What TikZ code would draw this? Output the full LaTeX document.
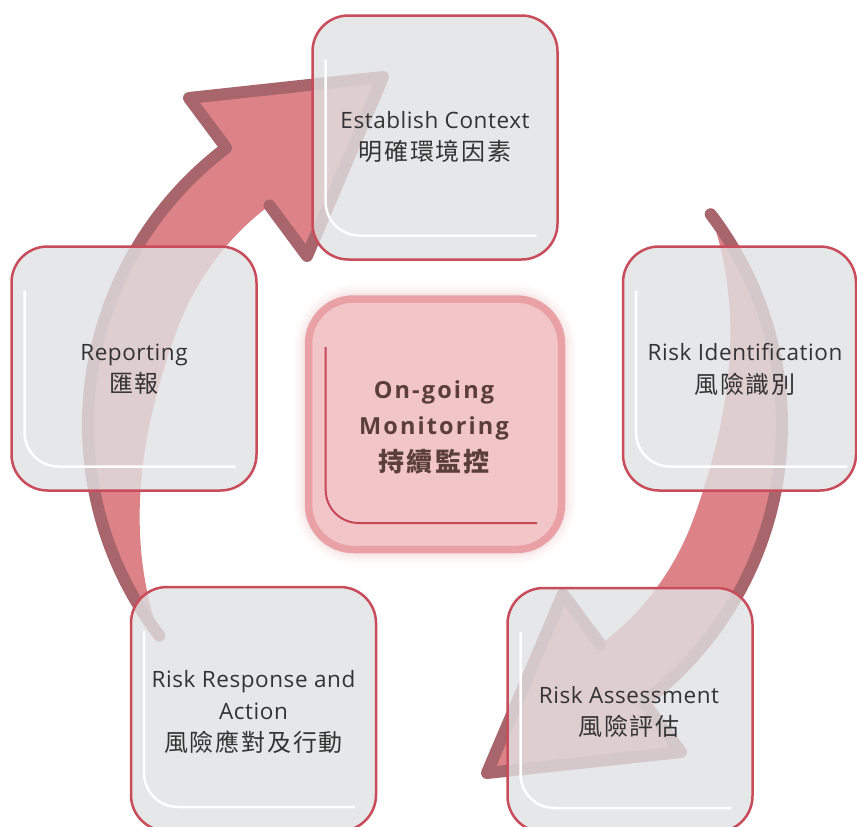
\documentclass[tikz,border=0pt]{standalone}
\usepackage{fontspec}
\setmainfont{Open Sans}
\newfontfamily\cjk{Noto Sans CJK TC}
\usetikzlibrary{calc}
\definecolor{boxfill}{RGB}{224,225,227}
\definecolor{boxline}{RGB}{201,76,91}
\definecolor{arrpink}{RGB}{221,130,135}
\definecolor{arrdark}{RGB}{168,102,108}
\definecolor{ctrfill}{RGB}{242,197,200}
\definecolor{ctrline}{RGB}{233,161,166}
\definecolor{ctrred}{RGB}{201,72,88}
\definecolor{txt}{RGB}{51,51,51}
\definecolor{ctrtxt}{RGB}{91,63,59}
\newcommand{\cyclearrow}{%
  \fill[arrpink] (226.2,147.9) -- (189,98) -- (383,77) -- (307,256) -- (269.5,205.4)
    -- plot[domain=233:142.6,samples=70] ({435+(347-72*sin(90*min(1,(\x-142.6)/57.4)))*cos(\x)},{425+(347-72*sin(90*min(1,(\x-142.6)/57.4)))*sin(\x)})
    -- plot[domain=142.6:233,samples=70] ({435+347*cos(\x)},{425+347*sin(\x)}) -- cycle;
  \draw[arrdark,line width=12pt,line join=round,line cap=round]
    (269.5,205.4) -- (307,256) -- (383,77) -- (189,98) -- (226.2,147.9)
    -- plot[domain=233:142.6,samples=70] ({435+347*cos(\x)},{425+347*sin(\x)});
}
\begin{document}
\begin{tikzpicture}[x=1pt,y=-1pt,
  box/.style={rectangle,draw=boxline,line width=2.5pt,fill=boxfill,fill opacity=0.8,
    rounded corners=36pt,inner sep=0pt,outer sep=0pt,minimum width=245pt,minimum height=244pt},
  wline/.style={draw=white,line width=2.5pt,rounded corners=34pt},
  lat/.style={font=\fontsize{22.5}{26}\selectfont\addfontfeatures{LetterSpace=2.5},text=txt,inner sep=0pt,anchor=base},
  cjkt/.style={font=\cjk\fontsize{24}{28}\selectfont\addfontfeatures{LetterSpace=7.5},text=txt,inner sep=0pt,anchor=base},
  clat/.style={font=\bfseries\fontsize{23.5}{27}\selectfont\addfontfeatures{LetterSpace=9},text=ctrtxt,inner sep=0pt,anchor=base},
  ccjk/.style={font=\cjk\bfseries\fontsize{26}{30}\selectfont\addfontfeatures{LetterSpace=8},text=ctrtxt,inner sep=0pt,anchor=base},
  ctrbox/.style={rectangle,draw=ctrline,line width=7.5pt,fill=ctrfill,rounded corners=45pt,
    inner sep=0pt,outer sep=0pt,minimum width=253pt,minimum height=250.5pt}
]
\useasboundingbox (0,0) rectangle (857,827);
\fill[white] (0,0) rectangle (857,827);
% arrows
\cyclearrow
\begin{scope}[rotate around={180:(435,425)}]
\cyclearrow
\end{scope}
% glow around centre box
\foreach \w/\o in {30/0.04,24/0.05,18/0.07,13/0.09}{
  \draw[ctrline,line width=\w pt,draw opacity=\o,rounded corners=48pt]
    (308.5,299) rectangle (561.5,549.5);
}
% centre box
\node[ctrbox] (ctr) at (435,424.25) {};
\draw[ctrred,line width=2pt,rounded corners=33pt] (325.7,347) |- (537,523);
% boxes
\node[box] (ec) at (435,137.5) {};
\node[box] (rep) at (134,368.5) {};
\node[box,minimum width=233pt] (rid) at (739.5,368.5) {};
\node[box] (rra) at (253.5,709) {};
\node[box] (ras) at (630,710) {};
\foreach \b in {ec,rep,rid,rra,ras}{
  \draw[wline] ($(\b.north west)+(13,44)$) |- ($(\b.north west)+(224,220)$);
}
% texts
\node[lat] (ec1) at (435,128.3) {Establish Context};
\node[cjkt] (ec2) at (435,160) {明確環境因素};
\node[lat] (rep1) at (134,360.7) {Reporting};
\node[cjkt] (rep2) at (134,392) {匯報};
\node[lat] (rid1) at (745,360.7) {Risk Identification};
\node[cjkt] (rid2) at (745,393) {風險識別};
\node[lat] (rra1) at (253.5,687.3) {Risk Response and};
\node[lat] (rra2) at (253.5,719.3) {Action};
\node[cjkt] (rra3) at (253.5,751) {風險應對及行動};
\node[lat] (ras1) at (629,703.3) {Risk Assessment};
\node[cjkt] (ras2) at (629,735) {風險評估};
\node[clat] (c1) at (434,398.3) {On-going};
\node[clat] (c2) at (434,434) {Monitoring};
\node[ccjk] (c3) at (434,471) {持續監控};
\end{tikzpicture}
\end{document}
